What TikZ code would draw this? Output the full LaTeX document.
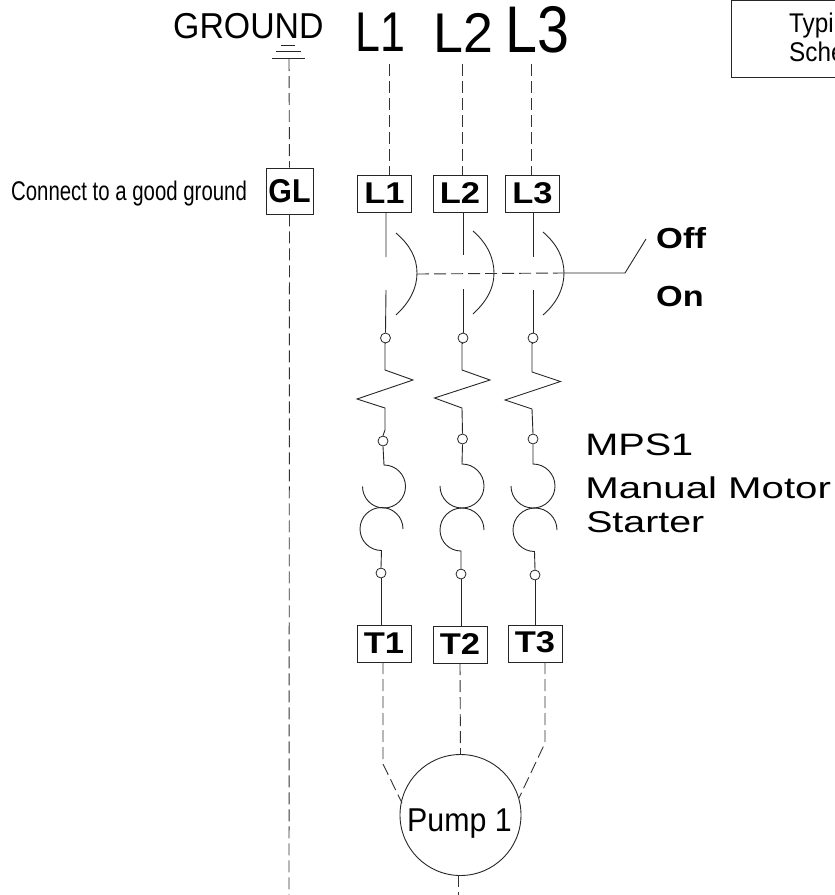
\documentclass[tikz,border=0pt]{standalone}
\usepackage{fontspec}
\setmainfont{Liberation Sans}
\tikzset{
  x=1pt,y=-1pt,
  wire/.style={draw=black!85,line width=0.9pt},
  dashwire/.style={draw=black!80,line width=0.9pt,dash pattern=on 12pt off 5pt},
  term/.style={draw=black!85,line width=0.9pt,fill=white,inner sep=0pt,minimum width=54pt,minimum height=37pt},
  junction/.style={circle,draw=black!85,line width=0.8pt,fill=white,inner sep=0pt,minimum size=10pt},
  lbl/.style={inner sep=0pt,anchor=base west},
}
\newcommand{\fs}[1]{\fontsize{#1}{#1}\selectfont}
\newcommand{\tl}[2][0pt]{\raisebox{#1}{\scalebox{1.15}[1]{\fs{30}\bfseries #2}}}
\begin{document}
\begin{tikzpicture}
\useasboundingbox (0,0) rectangle (835,895);
\clip (0,0) rectangle (835,895);
% terminals
\node[term,minimum width=47pt,minimum height=46pt] (GL) at (289.5,191) {\scalebox{.92}[1]{\fs{33}\bfseries GL}};
\node[term] (L1) at (384.5,193.5) {\tl{L1}};
\node[term] (L2) at (460,193.5) {\tl{L2}};
\node[term] (L3) at (532.5,193.5) {\tl{L3}};
\node[term] (T1) at (384,643.5) {\tl{T1}};
\node[term] (T2) at (460,644.5) {\tl{T2}};
\node[term] (T3) at (535,643.5) {\tl[3pt]{T3}};
% labels
\node[lbl,xscale=.94] (tg) at (173,38) {\fs{36}GROUND};
\node[lbl,xscale=.8] (tl1) at (355,51) {\fs{56}L1};
\node[lbl,xscale=.96] (tl2) at (433,52) {\fs{56}L2};
\node[lbl,xscale=.87] (tl3) at (505,52) {\fs{66}L3};
\node[lbl,xscale=.755] (tc) at (11,200) {\fs{27}Connect to a good ground};
\node[lbl,xscale=1.19] (toff) at (656,248) {\fs{29}\bfseries Off};
\node[lbl,xscale=1.18] (ton) at (656,306) {\fs{29}\bfseries On};
\node[lbl,xscale=1.28] (tm1) at (585,455) {\fs{31}MPS1};
\node[lbl,xscale=1.34] (tm2) at (585,498) {\fs{30}Manual Motor};
\node[lbl,xscale=1.31] (tm3) at (586,532) {\fs{30}Starter};
% ground
\coordinate (g0) at (289,59);
\draw[wire] (281,45)--(295,45) (276,51)--(301,51) (272,58)--(305,58);
\draw[dashwire] (g0)--(GL.north);
\coordinate (gb) at (289,895);
\draw[dashwire] (GL.south)--(gb);
% supply
\coordinate (s1) at (389,64); \coordinate (s2) at (462,64); \coordinate (s3) at (531,64);
\draw[dashwire] (s1)--(389,175);
\draw[dashwire] (s2)--(462,175);
\draw[dashwire] (s3)--(531,175);
% disconnect
\node[junction] (a1) at (385.5,338) {};
\node[junction] (a2) at (463,338) {};
\node[junction] (a3) at (533,338) {};
\draw[wire] (386,212)--(386,257) (386,290)--(a1.north);
\draw[wire] (463,212)--(463,255) (463,289)--(a2.north);
\draw[wire] (533,212)--(533,257) (533,290)--(a3.north);
\draw[wire] (396,233) .. controls (410,245) and (417,258) .. (417,273) .. controls (417,288) and (410,302) .. (396,315);
\draw[wire] (473,231) .. controls (487,243) and (494,258) .. (494,273) .. controls (494,288) and (487,301) .. (473,314);
\draw[wire] (543,232) .. controls (557,244) and (564,258) .. (564,273) .. controls (564,288) and (557,303) .. (543,315);
\draw[dashwire] (417,274)--(564,273);
\coordinate (h1) at (625,273); \coordinate (h2) at (646,239);
\draw[wire] (564,273)--(h1)--(h2);
% overload
\node[junction] (b1) at (383,441) {};
\node[junction] (b2) at (462.5,439) {};
\node[junction] (b3) at (533,439) {};
\draw[wire] (a1.south)--(385,343)--(385,370)--(413,380)--(357,399)--(385,408)--(385,430)--(b1.north);
\draw[wire] (a2.south)--(462,343)--(462,370)--(490,380)--(434.5,398)--(462,408)--(b2.north);
\draw[wire] (a3.south)--(532,343)--(532,372)--(560.5,381.5)--(505,400)--(532,409)--(b3.north);
% thermal arcs
\node[junction] (c1) at (381,573) {};
\node[junction] (c2) at (461,574) {};
\node[junction] (c3) at (535,575) {};
\draw[wire] (b1.south)--(384,465) arc[start angle=-90,end angle=180,radius=21.5];
\draw[wire] (403,529) arc[start angle=0,end angle=-180,radius=21.5] arc[start angle=180,end angle=90,radius=21.5]--(c1.north);
\draw[wire] (b2.south)--(462,464) arc[start angle=-90,end angle=180,radius=22];
\draw[wire] (484,530) arc[start angle=0,end angle=-180,radius=22] arc[start angle=180,end angle=90,radius=21]--(c2.north);
\draw[wire] (b3.south)--(533,464) arc[start angle=-90,end angle=180,radius=22];
\draw[wire] (557,530) arc[start angle=0,end angle=-180,radius=22] arc[start angle=180,end angle=90,radius=21.5]--(c3.north);
\draw[wire] (c1.south)--(c1.south|-T1.north);
\draw[wire] (c2.south)--(c2.south|-T2.north);
\draw[wire] (c3.south)--(c3.south|-T3.north);
% pump
\node[circle,draw=black!85,line width=0.9pt,inner sep=0pt,minimum size=121pt] (P) at (460.5,815) {};
\node[lbl,xscale=.92] (tp) at (407,831) {\fs{33}Pump 1};
\coordinate (k1) at (383,764); \coordinate (k3) at (545,743); \coordinate (pb) at (458,895);
\draw[dashwire] (383,662)--(k1)--(402,803);
\draw[dashwire] (460,663)--(P.north);
\draw[dashwire] (545,662)--(k3)--(519,798);
\draw[dashwire] (458,875)--(pb);
% title box
\draw[wire] (835,0.5)--(731,0.5)--(731,77)--(835,77);
\node[lbl,xscale=.9] (tt1) at (789,32) {\fs{27}Typi};
\node[lbl,xscale=.9] (tt2) at (789,61) {\fs{27}Sche};
\end{tikzpicture}
\end{document}
